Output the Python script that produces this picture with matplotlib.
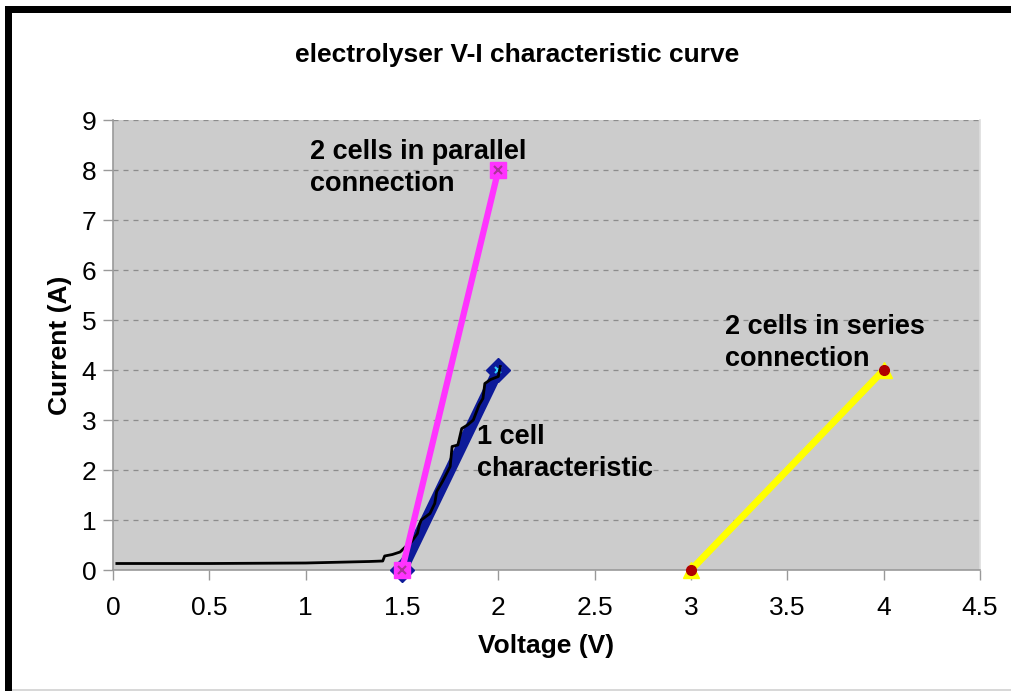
import matplotlib
matplotlib.use("Agg")
import matplotlib.pyplot as plt
from matplotlib.patches import Rectangle

plt.rcParams['font.family'] = ['Liberation Sans', 'DejaVu Sans']

# single cell, ideal straight-line fit
one_cell_v = [1.5, 2.0]
one_cell_i = [0.0, 4.0]

# two cells in parallel
parallel_v = [1.5, 2.0]
parallel_i = [0.0, 8.0]

# two cells in series
series_v = [3.0, 4.0]
series_i = [0.0, 4.0]

# measured single-cell curve
measured_v = [0.02, 0.50, 1.00, 1.33, 1.40, 1.41, 1.45, 1.49, 1.52, 1.55, 1.58, 1.59,
              1.60, 1.645, 1.67, 1.68, 1.71, 1.75, 1.76, 1.79, 1.81, 1.84, 1.87,
              1.90, 1.92, 1.93, 1.96, 2.00, 2.01]
measured_i = [0.13, 0.13, 0.14, 0.17, 0.18, 0.28, 0.31, 0.36, 0.47, 0.57, 0.73, 0.90,
              1.00, 1.13, 1.33, 1.57, 1.77, 2.07, 2.47, 2.50, 2.83, 2.90, 3.00,
              3.30, 3.43, 3.73, 3.81, 3.87, 4.07]

x_ticks = [0, 0.5, 1, 1.5, 2, 2.5, 3, 3.5, 4, 4.5]
x_labels = ['0', '0.5', '1', '1.5', '2', '2.5', '3', '3.5', '4', '4.5']
y_ticks = list(range(0, 10))

fig = plt.figure(figsize=(10.12, 6.91), dpi=100)
ax = fig.add_axes([113 / 1012, 1 - 570 / 691, 867 / 1012, 450 / 691])
ax.set_facecolor('#cccccc')

ax.set_xlim(0, 4.5)
ax.set_ylim(0, 9)
ax.set_xticks(x_ticks)
ax.set_xticklabels(x_labels)
ax.set_yticks(y_ticks)
ax.tick_params(axis='both', direction='out', length=7, width=1, color='#999999',
               labelsize=19)
ax.tick_params(axis='y', pad=5)
ax.tick_params(axis='x', pad=12)

for y in y_ticks[1:]:
    ax.axhline(y, color='#8c8c8c', linewidth=0.9, linestyle=(0, (4, 4)), zorder=1)

for side in ['left', 'bottom']:
    ax.spines[side].set_color('#9a9a9a')
    ax.spines[side].set_linewidth(1.2)
ax.spines['top'].set_visible(False)
ax.spines['right'].set_color('#dddddd')
ax.spines['right'].set_linewidth(1.2)

# 1 cell straight line
ax.plot(one_cell_v, one_cell_i, color='#0d1a99', linewidth=8, zorder=3,
        marker='D', markersize=12, markerfacecolor='#0d1a99', markeredgecolor='#0d1a99',
        solid_capstyle='butt', clip_on=False)
ax.plot(one_cell_v[1:], one_cell_i[1:], linestyle='none', marker='x', markersize=5,
        markeredgecolor='#33ccff', markeredgewidth=1.5, zorder=4)

# measured curve
ax.plot(measured_v, measured_i, color='black', linewidth=2, zorder=4)

# parallel
ax.plot(parallel_v, parallel_i, color='#ff33ff', linewidth=4.5, zorder=5,
        marker='s', markersize=11, markerfacecolor='#ff33ff', markeredgecolor='#ff33ff',
        clip_on=False)
ax.plot(parallel_v, parallel_i, linestyle='none', marker='x', markersize=6,
        markeredgecolor='#aa3399', markeredgewidth=1.5, zorder=6, clip_on=False)

# series
ax.plot(series_v, series_i, color='#ffff00', linewidth=5, zorder=5,
        marker='^', markersize=12, markerfacecolor='#ffff00', markeredgecolor='#ffff00',
        clip_on=False)
ax.plot(series_v, series_i, linestyle='none', marker='o', markersize=7,
        markerfacecolor='#b00000', markeredgecolor='#b00000', zorder=6, clip_on=False)

ax.text(1.022, 8.04, '2 cells in parallel\nconnection', fontsize=19.5, fontweight='bold',
        va='center', ha='left', linespacing=1.3, zorder=7)
ax.text(1.889, 2.34, '1 cell\ncharacteristic', fontsize=19.5, fontweight='bold',
        va='center', ha='left', linespacing=1.3, zorder=7)
ax.text(3.176, 4.55, '2 cells in series\nconnection', fontsize=19.5, fontweight='bold',
        va='center', ha='left', linespacing=1.3, zorder=7)

ax.set_xlabel('Voltage (V)', fontsize=19, fontweight='bold', labelpad=10)
ax.set_ylabel('Current (A)', fontsize=19, fontweight='bold', labelpad=7)
fig.text(517 / 1012, 1 - 55 / 691, 'electrolyser V-I characteristic curve',
         fontsize=19, fontweight='bold', ha='center', va='center')

# outer frame
fig.patches.append(Rectangle((5 / 1012, 0), 7 / 1012, 1 - 6 / 691, transform=fig.transFigure,
                             facecolor='black', edgecolor='none'))
fig.patches.append(Rectangle((5 / 1012, 1 - 12.5 / 691), 1 - 5 / 1012, 6.5 / 691,
                             transform=fig.transFigure, facecolor='black', edgecolor='none'))
fig.patches.append(Rectangle((12 / 1012, 0), 1, 2 / 691, transform=fig.transFigure,
                             facecolor='#d8d8d8', edgecolor='none'))

fig.savefig('out.png', dpi=100)
